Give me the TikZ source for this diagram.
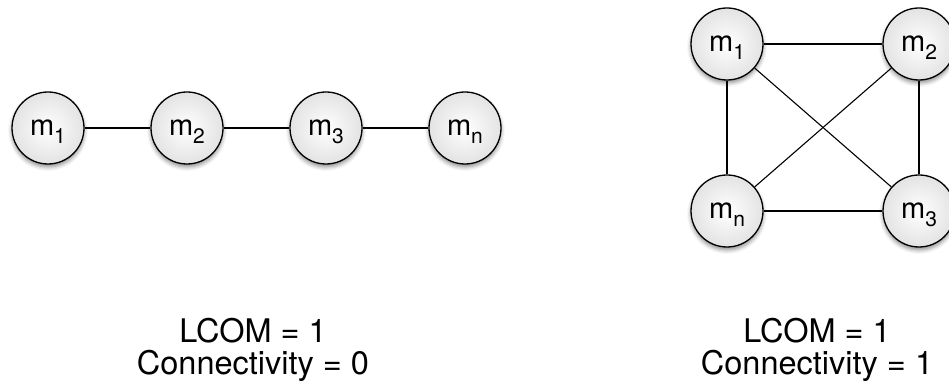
\documentclass[tikz,border=0pt]{standalone}
\usepackage{fontspec}
\setmainfont{TeX Gyre Heros}
\usetikzlibrary{shadows.blur}
\colorlet{nodeedge}{black}
\colorlet{nodefill}{gray!22}
\newcommand{\meth}[1]{m\raisebox{-8pt}{\fontsize{21}{21}\selectfont #1}}

\begin{document}
\begin{tikzpicture}[x=1pt, y=1pt,
    method/.style={circle, draw=nodeedge, line width=1.3pt, minimum size=72pt,
        inner sep=0pt, inner color=white, outer color=nodefill,
        text height=16pt, text depth=0pt, font=\fontsize{29}{29}\selectfont,
        blur shadow={shadow xshift=0pt, shadow yshift=-3pt, shadow blur radius=4pt, shadow opacity=45}},
    link/.style={line width=1.1pt},
    caption/.style={anchor=base, font=\fontsize{32.5}{34}\selectfont}]
        \useasboundingbox (0,0) rectangle (949,390);
        % chain
        \node[method] (a1) at (48,262) {\meth{1}};
        \node[method] (a2) at (187,262) {\meth{2}};
        \node[method] (a3) at (326,262) {\meth{3}};
        \node[method] (an) at (465,262) {\meth{n}};
        \draw[link] (a1) -- (a2);
        \draw[link] (a2) -- (a3);
        \draw[link] (a3) -- (an);
        % ~~~~~~~~~~~~~~~~~
        % complete graph
        \node[method] (b1) at (727,346) {\meth{1}};
        \node[method] (b2) at (919,346) {\meth{2}};
        \node[method] (bn) at (727,179) {\meth{n}};
        \node[method] (b3) at (919,179) {\meth{3}};
        \draw[link] (b1) -- (b2);
        \draw[link] (b1) -- (bn);
        \draw[link] (b2) -- (b3);
        \draw[link] (bn) -- (b3);
        \draw[link] (b1) -- (b3);
        \draw[link] (b2) -- (bn);
        % ~~~~~~~~~~~~~~~~~
        \node[caption] (lcomA) at (253,47) {LCOM = 1};
        \node[caption] (connA) at (253,15) {Connectivity = 0};
        \node[caption] (lcomB) at (817,47) {LCOM = 1};
        \node[caption] (connB) at (817,15) {Connectivity = 1};
    \end{tikzpicture}
\end{document}
